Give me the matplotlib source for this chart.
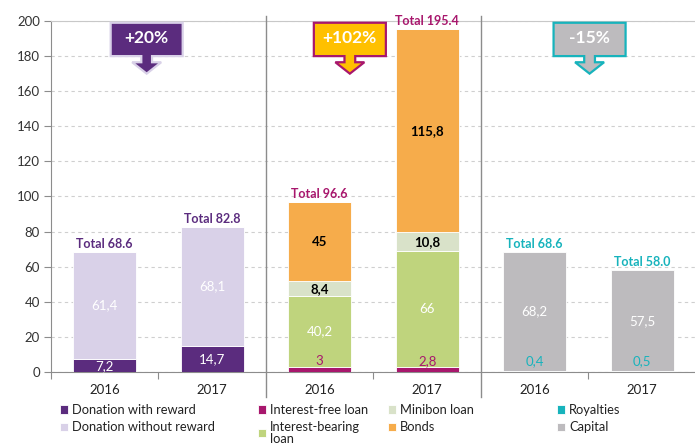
import numpy as np
import matplotlib
matplotlib.use('Agg')
import matplotlib.pyplot as plt
from matplotlib.patches import Polygon

plt.rcParams['font.family'] = ['Lato', 'DejaVu Sans']

# data
years = ['2016', '2017', '2016', '2017', '2016', '2017']
reward = [7.2, 14.7, 0, 0, 0, 0]
no_reward = [61.4, 68.1, 0, 0, 0, 0]
free_loan = [0, 0, 3, 2.8, 0, 0]
bearing_loan = [0, 0, 40.2, 66, 0, 0]
minibon = [0, 0, 8.4, 10.8, 0, 0]
bonds = [0, 0, 45, 115.8, 0, 0]
royalties = [0, 0, 0, 0, 0.4, 0.5]
capital = [0, 0, 0, 0, 68.2, 57.5]
badges = ['+20%', '+102%', '-15%']

series = [
    ('Donation with reward', reward, '#5B2C7E', 'white', 'normal'),
    ('Donation without reward', no_reward, '#D9D1E8', 'white', 'normal'),
    ('Interest-free loan', free_loan, '#A8176D', '#A8176D', 'normal'),
    ('Interest-bearing\nloan', bearing_loan, '#BFD47D', 'white', 'normal'),
    ('Minibon loan', minibon, '#D9E2C9', 'black', 'bold'),
    ('Bonds', bonds, '#F6AC4B', 'black', 'bold'),
    ('Royalties', royalties, '#17B3BC', '#17B3BC', 'normal'),
    ('Capital', capital, '#BDBBBE', 'white', 'normal'),
]
small = ['Interest-free loan', 'Royalties']

group_col = ['#5B2C7E', '#5B2C7E', '#A8176D', '#A8176D', '#17B3BC', '#17B3BC']
badge_face = ['#5B2C7E', '#FFC000', '#BDBBBE']
badge_edge = ['#D9D1E8', '#A8176D', '#17B3BC']
badge_x = [0.39, 2.28, 4.51]

fig = plt.figure(figsize=(6.95, 4.46), dpi=100)
ax = fig.add_axes([51/695, 1-372/446, 645/695, 351/446])

x = np.arange(len(years))
w = 0.585
bottom = np.zeros(len(years))
handles = {}
for name, vals, col, tcol, tw in series:
    vals = np.array(vals, dtype=float)
    b = ax.bar(x, vals, w, bottom=bottom, color=col, edgecolor='white', linewidth=0.6, zorder=3)
    handles[name] = b
    for i, v in enumerate(vals):
        if v <= 0:
            continue
        lab = ('%g' % v).replace('.', ',')
        if name in small:
            yy = 6.3
        else:
            yy = bottom[i] + v / 2
        ax.text(i, yy, lab, ha='center', va='center', color=tcol, fontsize=9.5,
                fontweight=tw, zorder=5)
    bottom += vals

for i, t in enumerate(bottom):
    ax.text(i, t + 1.2, 'Total %.1f' % t, ha='center', va='bottom', color=group_col[i],
            fontsize=9, fontweight='bold', zorder=5)

# badges
for lab, xc, fc, ec in zip(badges, badge_x, badge_face, badge_edge):
    hw, sw, aw = 0.335, 0.05, 0.135
    pts = [(xc-hw, 199), (xc+hw, 199), (xc+hw, 180), (xc+sw, 180), (xc+sw, 176.5),
           (xc+aw, 176.5), (xc, 170), (xc-aw, 176.5), (xc-sw, 176.5), (xc-sw, 180),
           (xc-hw, 180)]
    ax.add_patch(Polygon(pts, closed=True, facecolor=fc, edgecolor=ec, linewidth=1.6,
                         zorder=6, clip_on=False))
    ax.text(xc, 190.5, lab, ha='center', va='center', color='white', fontsize=12.5,
            fontweight='bold', zorder=7)

ax.set_xlim(-0.5, 5.5)
ax.set_ylim(0, 200)
ax.set_yticks(np.arange(0, 201, 20))
ax.set_xticks(x)
ax.set_xticklabels(years)
ax.set_xticks([-0.5, 0.5, 2.5, 4.5], minor=True)
ax.tick_params(axis='x', which='major', length=0, pad=9, labelsize=9.5, labelcolor='#222222')
ax.tick_params(axis='x', which='minor', length=5, color='#8C8C8C', width=0.8)
ax.tick_params(axis='y', length=5, color='#8C8C8C', width=0.8, labelsize=9.5,
               labelcolor='#333333', pad=3)
ax.yaxis.grid(True, linestyle=(0, (3, 3)), color='#CFCFCF', linewidth=0.8, zorder=0)
ax.set_axisbelow(True)
ax.spines['right'].set_visible(False)
ax.spines['top'].set_color('#C8C8C8')
ax.spines['left'].set_color('#8C8C8C')
ax.spines['bottom'].set_color('#8C8C8C')

# group separators
tr = ax.get_xaxis_transform()
for xs in [1.5, 3.5]:
    ax.plot([xs, xs], [-0.072, 1.015], transform=tr, color='#8C8C8C', linewidth=1,
            clip_on=False, zorder=4)

# legends, one per column
cols = [
    (['Donation with reward', 'Donation without reward'], 60),
    (['Interest-free loan', 'Interest-bearing\nloan'], 258),
    (['Minibon loan', 'Bonds'], 388),
    (['Royalties', 'Capital'], 557),
]
for names, px in cols:
    leg = fig.legend([handles[n] for n in names], names, loc='upper left',
                     bbox_to_anchor=(px/695, 1-404/446), frameon=False, fontsize=9.3,
                     borderpad=0, borderaxespad=0, handlelength=0.6, handleheight=0.6,
                     handletextpad=0.35, labelspacing=0.4, labelcolor='#222222')
    for t in leg.get_texts():
        t.set_linespacing(0.95)

fig.savefig('out.png', dpi=100)
